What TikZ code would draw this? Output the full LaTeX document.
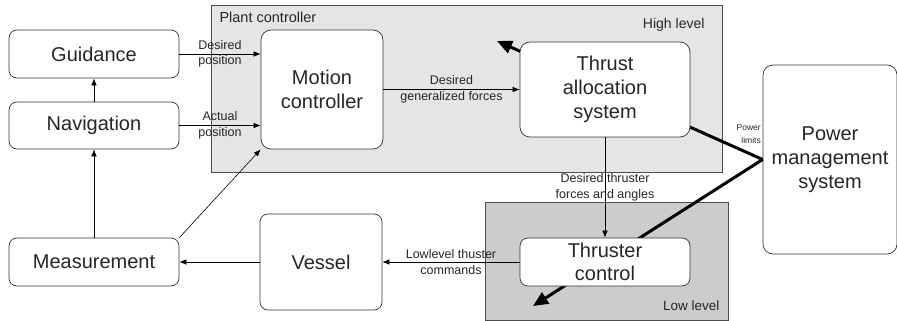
\documentclass[tikz,border=0pt]{standalone}
\usepackage{fontspec}
\setmainfont{Liberation Sans}
\usetikzlibrary{arrows.meta}

\begin{document}
\begin{tikzpicture}[x=1pt, y=-1pt, >={Latex[length=7pt,width=5.5pt]},
    block/.style={draw=black!80, fill=white, rounded corners=8pt, line width=0.7pt,
        align=center, inner sep=0pt, text=black!85, font=\fontsize{20}{24}\selectfont},
    lbl/.style={align=center, inner sep=0pt, text=black!85, font=\fontsize{12.5}{15.5}\selectfont},
    flow/.style={->, line width=0.6pt},
    power/.style={-{Triangle[length=15pt,width=13pt]}, line width=3pt}]
    \useasboundingbox (0,0) rectangle (897,321);
    % Level areas
    \filldraw[fill=gray!20, draw=black!70, line width=0.7pt] (211,5) rectangle (722,172);
    \node[anchor=west, text=black!85, font=\fontsize{14.5}{16}\selectfont] (plant) at (216,17) {Plant controller};
    \node[anchor=east, text=black!85, font=\fontsize{14}{16}\selectfont] (high) at (708,25) {High level};
    \filldraw[fill=gray!40, draw=black!70, line width=0.7pt] (485,202) rectangle (728,320);
    \node[anchor=east, text=black!85, font=\fontsize{13.5}{16}\selectfont] (low) at (723,306) {Low level};
    % Blocks
    \node[block, minimum width=134pt, minimum height=189pt, rounded corners=10pt] (pms) at (830,159.5) {Power\\management\\system};
    \coordinate (hitip) at (497,41);
    \coordinate (lotip) at (533,306);
    % Power limits
    \draw[power] (pms.west) -- (hitip);
    \draw[power] (pms.west) -- (lotip);
    \node[block, minimum width=170pt, minimum height=48pt] (guid) at (94,54) {Guidance};
    \node[block, minimum width=170pt, minimum height=47pt] (nav) at (94,125.5) {Navigation};
    \node[block, minimum width=170pt, minimum height=48pt] (meas) at (94,262) {Measurement};
    \node[block, minimum width=122pt, minimum height=96pt] (vessel) at (321,262) {Vessel};
    \node[block, minimum width=122pt, minimum height=119pt, rounded corners=10pt] (motion) at (322,89.5) {Motion\\controller};
    \node[block, minimum width=170pt, minimum height=95pt, rounded corners=10pt] (alloc) at (605,89.5) {Thrust\\allocation\\system};
    \node[block, minimum width=170pt, minimum height=48pt, font=\fontsize{20}{23}\selectfont] (thruster) at (605,262) {Thruster\\control};
    \node[anchor=east, align=right, inner sep=0pt, text=black!85, font=\fontsize{8.5}{12.5}\selectfont] (limits) at (761,134) {Power\\limits};
    % Signals
    \draw[flow] (guid.east) -- node[lbl] {Desired\\position} (guid.east -| motion.west);
    \draw[flow] (nav.east) -- node[lbl] {Actual\\position} (nav.east -| motion.west);
    \draw[flow] (nav.north) -- (guid.south);
    \draw[flow] (meas.north) -- (nav.south);
    \draw[flow] (meas.north east) -- (motion.south west);
    \draw[flow] (motion.east) -- node[lbl] {Desired\\generalized forces} (alloc.west);
    \draw[flow] (alloc.south) -- node[lbl] {Desired thruster\\forces and angles} (thruster.north);
    \draw[flow] (thruster.west) -- node[lbl] {Lowlevel thuster\\commands} (vessel.east);
    \draw[flow] (vessel.west) -- (meas.east);
\end{tikzpicture}
\end{document}
